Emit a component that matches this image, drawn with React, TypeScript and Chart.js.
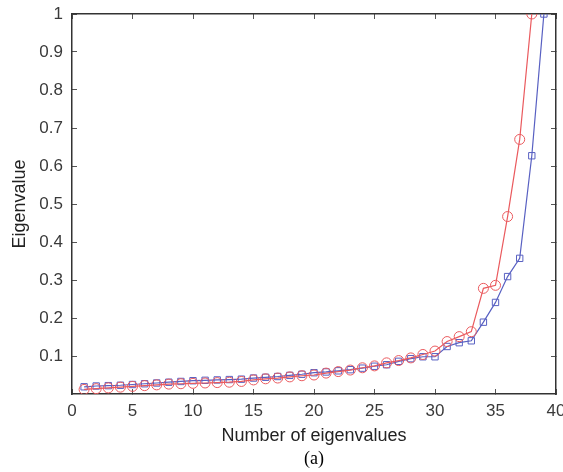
import React, { useEffect, useRef } from "react";
import { Chart, registerables } from "chart.js";

Chart.register(...registerables);

const blueX = [1,2,3,4,5,6,7,8,9,10,11,12,13,14,15,16,17,18,19,20,21,22,23,24,25,26,27,28,29,30,31,32,33,34,35,36,37,38,39];
const blueY = [0.019,0.021,0.022,0.023,0.025,0.027,0.029,0.031,0.033,0.035,0.036,0.037,0.038,0.039,0.042,0.044,0.046,0.049,0.052,0.056,0.058,0.061,0.064,0.068,0.073,0.077,0.086,0.093,0.098,0.098,0.125,0.135,0.140,0.189,0.241,0.309,0.357,0.627,1.0];
const redX = [1,2,3,4,5,6,7,8,9,10,11,12,13,14,15,16,17,18,19,20,21,22,23,24,25,26,27,28,29,30,31,32,33,34,35,36,37,38];
const redY = [0.012,0.014,0.016,0.018,0.020,0.022,0.024,0.026,0.027,0.028,0.029,0.030,0.031,0.033,0.037,0.040,0.042,0.045,0.048,0.050,0.055,0.059,0.063,0.069,0.074,0.082,0.088,0.095,0.104,0.113,0.138,0.151,0.164,0.278,0.286,0.467,0.67,1.0];
const xTicks = [0,5,10,15,20,25,30,35,40];
const yTicks = [0.1,0.2,0.3,0.4,0.5,0.6,0.7,0.8,0.9,1];
const xTitle = "Number of eigenvalues";
const yTitle = "Eigenvalue";
const caption = "(a)";

export default function App() {
  const ref = useRef<HTMLCanvasElement>(null);
  useEffect(() => {
    document.body.style.margin = "0";
    const font = "'Liberation Sans', Arial, sans-serif";
    const border = { display: true, color: "#333", width: 1.5 };
    const grid = { display: true, drawOnChartArea: false, drawTicks: true, tickLength: -5, color: "#555", lineWidth: 1 };
    const setX = (s: any) => { s.ticks = xTicks.map((v) => ({ value: v })); };
    const setY = (s: any) => { s.ticks = yTicks.map((v) => ({ value: v })); };
    const chart = new Chart(ref.current!, {
      type: "line",
      data: {
        datasets: [
          {
            label: "red",
            data: redX.map((x, i) => ({ x, y: redY[i] })),
            borderColor: "#ea5a5e",
            backgroundColor: "rgba(0,0,0,0)",
            borderWidth: 1.2,
            pointStyle: "circle",
            pointRadius: 5,
            pointBorderWidth: 1,
            pointBorderColor: "#ea5a5e",
            pointBackgroundColor: "rgba(0,0,0,0)",
            xAxisID: "x",
            yAxisID: "y",
          },
          {
            label: "blue",
            data: blueX.map((x, i) => ({ x, y: blueY[i] })),
            borderColor: "#5860c2",
            backgroundColor: "rgba(0,0,0,0)",
            borderWidth: 1.2,
            pointStyle: "rect",
            pointRadius: 4.5,
            pointBorderWidth: 1,
            pointBorderColor: "#5860c2",
            pointBackgroundColor: "rgba(0,0,0,0)",
            xAxisID: "x",
            yAxisID: "y",
          },
        ],
      },
      options: {
        animation: false,
        responsive: false,
        maintainAspectRatio: false,
        layout: { padding: { left: 0, right: 7, top: 14, bottom: 2.2 } },
        plugins: {
          legend: { display: false },
          tooltip: { enabled: false },
          title: {
            display: true,
            text: caption,
            position: "bottom",
            fullSize: false,
            color: "#000",
            font: { family: "'Liberation Serif', 'Times New Roman', serif", size: 18, weight: "normal" },
            padding: { top: 0, bottom: 0 },
          },
        },
        scales: {
          x: {
            type: "linear",
            position: "bottom",
            min: 0,
            max: 40,
            afterBuildTicks: setX,
            afterFit: (s: any) => { s.height = 54.2; s.paddingLeft = 0; s.paddingRight = 0; },
            grid,
            border,
            ticks: { color: "#3a3a3a", font: { family: font, size: 17 }, padding: 12, maxRotation: 0 },
            title: { display: true, text: xTitle, color: "#222", font: { family: font, size: 18 }, padding: { top: 0, bottom: 1.4 } },
          },
          x2: {
            type: "linear",
            position: "top",
            min: 0,
            max: 40,
            afterBuildTicks: setX,
            afterFit: (s: any) => { s.height = 0; s.paddingLeft = 0; s.paddingRight = 0; },
            grid,
            border,
            ticks: { display: false },
          },
          y: {
            type: "linear",
            position: "left",
            min: 0,
            max: 1,
            afterBuildTicks: setY,
            afterFit: (s: any) => { s.width = 72; s.paddingTop = 0; s.paddingBottom = 0; },
            grid,
            border,
            ticks: { color: "#3a3a3a", font: { family: font, size: 17 }, padding: 14, callback: (v: any) => String(Math.round(v * 10) / 10) },
            title: { display: true, text: yTitle, color: "#222", font: { family: font, size: 18 }, padding: { top: 9, bottom: 0 } },
          },
          y2: {
            type: "linear",
            position: "right",
            min: 0,
            max: 1,
            afterBuildTicks: setY,
            afterFit: (s: any) => { s.width = 0; s.paddingTop = 0; s.paddingBottom = 0; },
            grid,
            border,
            ticks: { display: false },
          },
        },
      },
    } as any);
    return () => chart.destroy();
  }, []);
  return (
    <div style={{ width: 563, height: 472, background: "#fff" }}>
      <canvas ref={ref} width={563} height={472} style={{ width: 563, height: 472, display: "block" }} />
    </div>
  );
}
